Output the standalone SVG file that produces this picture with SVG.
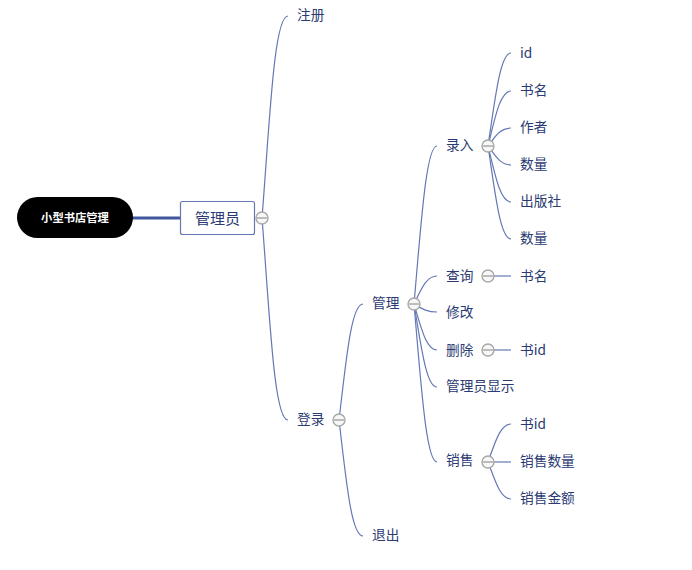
<svg xmlns="http://www.w3.org/2000/svg" width="692" height="570" viewBox="0 0 692 570">
<style>
text{font-family:"Noto Sans CJK SC","Noto Sans",sans-serif;font-size:13.7px;fill:#2a3a72}
.c{fill:none;stroke:#6478b4;stroke-width:1.2}
.k{fill:#f7f7f7;stroke:#a8a8a8;stroke-width:1.4}
.m{stroke:#959595;stroke-width:1.2}
</style>
<defs>
<g id="tog"><circle class="k" r="6"/><line class="m" x1="-5" x2="5" y1="0" y2="0"/></g>
</defs>
<g id="connectors">
<path d="M132 218H180" fill="none" stroke="#41569f" stroke-width="3"/>
<path class="c" d="M262 218C270 117 274 16 288 16"/>
<path class="c" d="M262 218C270 319 274 420 288 420"/>
<path class="c" d="M339 420C346 362 351 304 363 304"/>
<path class="c" d="M339 420C346 478 351 536 363 536"/>
<path class="c" d="M414 304C421 225 426 146 437 146"/>
<path class="c" d="M414 304C421 290 426 276 437 276"/>
<path class="c" d="M414 304C421 308 426 312 437 312"/>
<path class="c" d="M414 304C421 327 426 350 437 350"/>
<path class="c" d="M414 304C421 345 426 387 437 387"/>
<path class="c" d="M414 304C421 383 426 462 437 462"/>
<path class="c" d="M488 146C495 100 500 53 511 53"/>
<path class="c" d="M488 146C495 118 500 91 511 91"/>
<path class="c" d="M488 146C495 137 500 128 511 128"/>
<path class="c" d="M488 146C495 155 500 165 511 165"/>
<path class="c" d="M488 146C495 174 500 202 511 202"/>
<path class="c" d="M488 146C495 192 500 239 511 239"/>
<path class="c" d="M488 276H511"/>
<path class="c" d="M488 350H511"/>
<path class="c" d="M488 462C495 443 500 424 511 424"/>
<path class="c" d="M488 462H511"/>
<path class="c" d="M488 462C495 480 500 499 511 499"/>
</g>
<g id="root"><rect x="17" y="197" width="116" height="41" rx="20.5" fill="#000"/><text x="75" y="222" text-anchor="middle" style="font-size:11.3px;font-weight:700;fill:#fff">小型书店管理</text></g>
<g id="admin"><rect x="180.500" y="201.500" width="74" height="33" rx="2" fill="#fff" stroke="#6478b4" stroke-width="1.2"/><text x="217.500" y="223.500" text-anchor="middle" style="font-size:15px">管理员</text><use href="#tog" x="262" y="218"/></g>
<g id="register"><text x="297" y="20">注册</text></g>
<g id="login"><text x="297" y="424">登录</text><use href="#tog" x="339" y="420"/></g>
<g id="manage"><text x="372" y="308">管理</text><use href="#tog" x="414" y="304"/></g>
<g id="exit"><text x="372" y="540">退出</text></g>
<g id="entry"><text x="446" y="150">录入</text><use href="#tog" x="488" y="146"/></g>
<g id="query"><text x="446" y="281">查询</text><use href="#tog" x="488" y="276"/></g>
<g id="edit"><text x="446" y="317">修改</text></g>
<g id="delete"><text x="446" y="355">删除</text><use href="#tog" x="488" y="350"/></g>
<g id="display"><text x="446" y="391">管理员显示</text></g>
<g id="sales"><text x="446" y="465">销售</text><use href="#tog" x="488" y="462"/></g>
<g id="e-id"><text x="520" y="58">id</text></g>
<g id="e-name"><text x="520" y="95">书名</text></g>
<g id="e-author"><text x="520" y="132">作者</text></g>
<g id="e-qty"><text x="520" y="169">数量</text></g>
<g id="e-pub"><text x="520" y="206">出版社</text></g>
<g id="e-qty2"><text x="520" y="243">数量</text></g>
<g id="q-name"><text x="520" y="281">书名</text></g>
<g id="d-id"><text x="520" y="355">书id</text></g>
<g id="s-id"><text x="520" y="429">书id</text></g>
<g id="s-qty"><text x="520" y="466">销售数量</text></g>
<g id="s-amt"><text x="520" y="503">销售金额</text></g>
</svg>
